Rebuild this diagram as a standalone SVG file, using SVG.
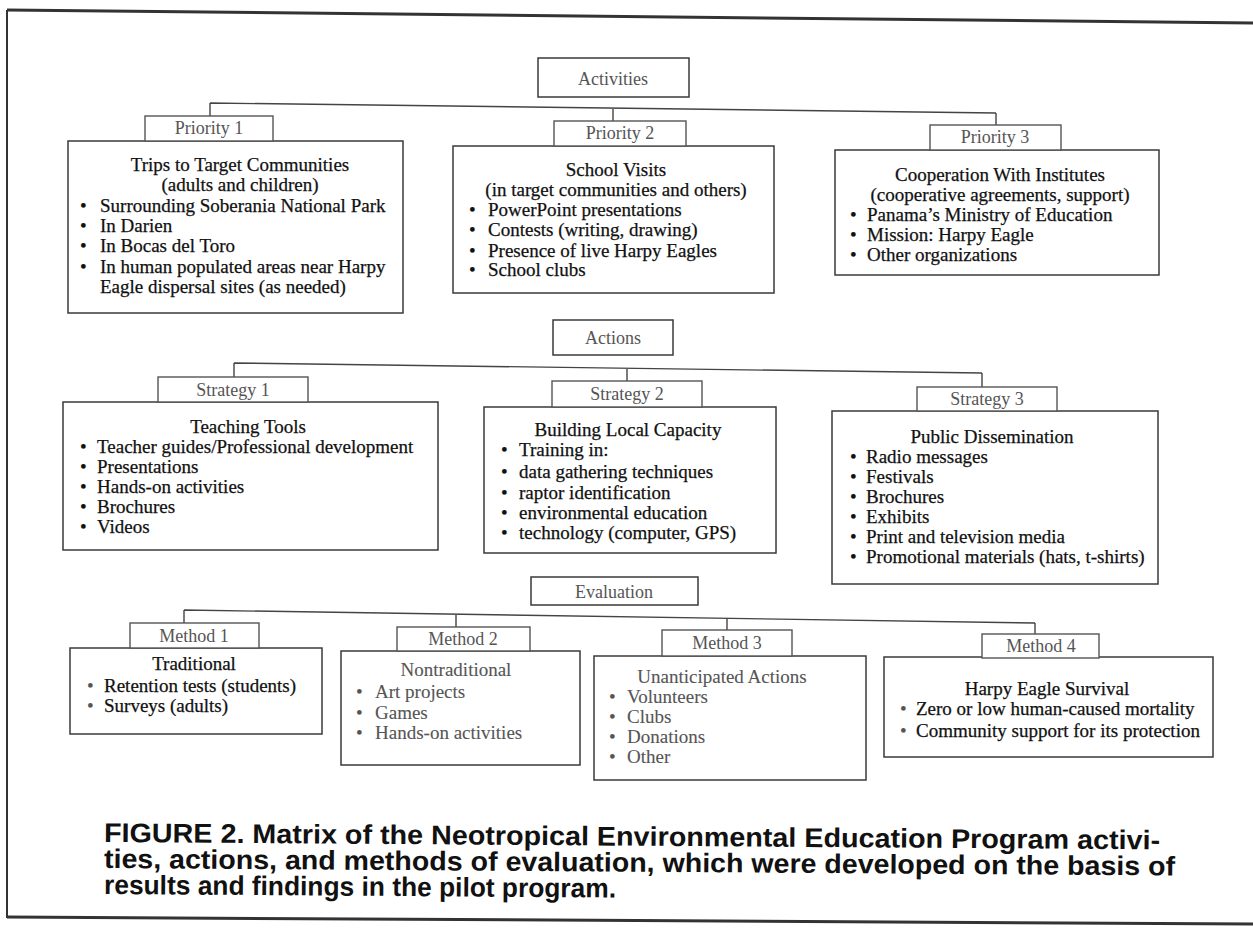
<svg xmlns="http://www.w3.org/2000/svg" width="1253" height="931" viewBox="0 0 1253 931">
<style>
.box{fill:#fff;stroke:#3a3a3a;stroke-width:1.5}
.lab{fill:#fff;stroke:#555;stroke-width:1.4}
.conn{fill:none;stroke:#444;stroke-width:1.4}
.t{font-family:"Liberation Serif","Times New Roman",serif;font-size:19px;fill:#111;stroke:#111;stroke-width:0.25}
.c{text-anchor:middle}
.g{fill:#555;stroke:#555;stroke-width:0.1}
.lt{font-family:"Liberation Serif","Times New Roman",serif;font-size:18px;fill:#555;text-anchor:middle}
.cap{font-family:"Liberation Sans",Arial,sans-serif;font-size:27px;font-weight:bold;fill:#111}
.frame{fill:none;stroke:#333}
</style>
<rect width="1253" height="931" fill="#fff"/>
<g id="frame">
<path class="frame" stroke-width="3" d="M7,10 L1253,23"/>
<path class="frame" stroke-width="2" d="M7,10 L7,918"/>
<path class="frame" stroke-width="3" d="M7,917 L1253,924"/>
</g>
<g id="connectors">
<path class="conn" d="M210,103 L996,113 M210,103 V116 M613,108 V121 M996,113 V125"/>
<path class="conn" d="M234,363 L982,373 M234,363 V377 M627,369 V381 M982,373 V387"/>
<path class="conn" d="M184,610 L1035,623 M184,610 V623 M456,614.2 V627 M727,618.4 V630 M1035,623 V634"/>
</g>
<g id="activities">
<rect class="box" x="538" y="58" width="151" height="39"/>
<text class="lt" x="613" y="85">Activities</text>
</g>
<g id="priority1">
<rect class="box" x="68" y="141" width="335" height="172"/>
<rect class="lab" x="145" y="116" width="128" height="25"/>
<text class="lt" x="209" y="134">Priority 1</text>
<text class="t c" x="240" y="171">Trips to Target Communities</text>
<text class="t c" x="240" y="191">(adults and children)</text>
<text class="t" x="80" y="212">•</text><text class="t" x="100" y="212">Surrounding Soberania National Park</text>
<text class="t" x="80" y="232">•</text><text class="t" x="100" y="232">In Darien</text>
<text class="t" x="80" y="252">•</text><text class="t" x="100" y="252">In Bocas del Toro</text>
<text class="t" x="80" y="273">•</text><text class="t" x="100" y="273">In human populated areas near Harpy</text>
<text class="t" x="100" y="293">Eagle dispersal sites (as needed)</text>
</g>
<g id="priority2">
<rect class="box" x="453" y="146" width="321" height="147"/>
<rect class="lab" x="554" y="121" width="132" height="25"/>
<text class="lt" x="620" y="139">Priority 2</text>
<text class="t c" x="616" y="176">School Visits</text>
<text class="t c" x="616" y="196">(in target communities and others)</text>
<text class="t" x="469" y="216">•</text><text class="t" x="488" y="216">PowerPoint presentations</text>
<text class="t" x="469" y="236">•</text><text class="t" x="488" y="236">Contests (writing, drawing)</text>
<text class="t" x="469" y="257">•</text><text class="t" x="488" y="257">Presence of live Harpy Eagles</text>
<text class="t" x="469" y="276">•</text><text class="t" x="488" y="276">School clubs</text>
</g>
<g id="priority3">
<rect class="box" x="835" y="150" width="324" height="125"/>
<rect class="lab" x="930" y="125" width="131" height="25"/>
<text class="lt" x="995" y="143">Priority 3</text>
<text class="t c" x="1000" y="181">Cooperation With Institutes</text>
<text class="t c" x="1000" y="201">(cooperative agreements, support)</text>
<text class="t" x="850" y="221">•</text><text class="t" x="867" y="221">Panama’s Ministry of Education</text>
<text class="t" x="850" y="241">•</text><text class="t" x="867" y="241">Mission: Harpy Eagle</text>
<text class="t" x="850" y="261">•</text><text class="t" x="867" y="261">Other organizations</text>
</g>
<g id="actions">
<rect class="box" x="553" y="320" width="120" height="35"/>
<text class="lt" x="613" y="344">Actions</text>
</g>
<g id="strategy1">
<rect class="box" x="63" y="402" width="375" height="148"/>
<rect class="lab" x="158" y="377" width="150" height="25"/>
<text class="lt" x="233" y="396">Strategy 1</text>
<text class="t c" x="248" y="433">Teaching Tools</text>
<text class="t" x="80" y="453">•</text><text class="t" x="97" y="453">Teacher guides/Professional development</text>
<text class="t" x="80" y="473">•</text><text class="t" x="97" y="473">Presentations</text>
<text class="t" x="80" y="493">•</text><text class="t" x="97" y="493">Hands-on activities</text>
<text class="t" x="80" y="513">•</text><text class="t" x="97" y="513">Brochures</text>
<text class="t" x="80" y="533">•</text><text class="t" x="97" y="533">Videos</text>
</g>
<g id="strategy2">
<rect class="box" x="484" y="407" width="292" height="146"/>
<rect class="lab" x="552" y="381" width="150" height="26"/>
<text class="lt" x="627" y="400">Strategy 2</text>
<text class="t c" x="628" y="436">Building Local Capacity</text>
<text class="t" x="501" y="456">•</text><text class="t" x="519" y="456">Training in:</text>
<text class="t" x="501" y="478">•</text><text class="t" x="519" y="478">data gathering techniques</text>
<text class="t" x="501" y="499">•</text><text class="t" x="519" y="499">raptor identification</text>
<text class="t" x="501" y="519">•</text><text class="t" x="519" y="519">environmental education</text>
<text class="t" x="501" y="539">•</text><text class="t" x="519" y="539">technology (computer, GPS)</text>
</g>
<g id="strategy3">
<rect class="box" x="832" y="411" width="326" height="173"/>
<rect class="lab" x="917" y="387" width="140" height="24"/>
<text class="lt" x="987" y="405">Strategy 3</text>
<text class="t c" x="992" y="443">Public Dissemination</text>
<text class="t" x="850" y="463">•</text><text class="t" x="866" y="463">Radio messages</text>
<text class="t" x="850" y="483">•</text><text class="t" x="866" y="483">Festivals</text>
<text class="t" x="850" y="503">•</text><text class="t" x="866" y="503">Brochures</text>
<text class="t" x="850" y="523">•</text><text class="t" x="866" y="523">Exhibits</text>
<text class="t" x="850" y="543">•</text><text class="t" x="866" y="543">Print and television media</text>
<text class="t" x="850" y="563">•</text><text class="t" x="866" y="563">Promotional materials (hats, t-shirts)</text>
</g>
<g id="evaluation">
<rect class="box" x="531" y="577" width="167" height="28"/>
<text class="lt" x="614" y="598">Evaluation</text>
</g>
<g id="method1">
<rect class="box" x="70" y="648" width="252" height="86"/>
<rect class="lab" x="130" y="623" width="129" height="25"/>
<text class="lt" x="194" y="642">Method 1</text>
<text class="t c" x="194" y="670">Traditional</text>
<text class="t g" x="87" y="692">•</text><text class="t" x="104" y="692">Retention tests (students)</text>
<text class="t g" x="87" y="712">•</text><text class="t" x="104" y="712">Surveys (adults)</text>
</g>
<g id="method2">
<rect class="box" x="341" y="651" width="239" height="114"/>
<rect class="lab" x="397" y="627" width="133" height="24"/>
<text class="lt" x="463" y="645">Method 2</text>
<text class="t c g" x="456" y="676">Nontraditional</text>
<text class="t g" x="356" y="698">•</text><text class="t g" x="375" y="698">Art projects</text>
<text class="t g" x="356" y="719">•</text><text class="t g" x="375" y="719">Games</text>
<text class="t g" x="356" y="739">•</text><text class="t g" x="375" y="739">Hands-on activities</text>
</g>
<g id="method3">
<rect class="box" x="594" y="656" width="272" height="124"/>
<rect class="lab" x="662" y="630" width="130" height="26"/>
<text class="lt" x="727" y="649">Method 3</text>
<text class="t c g" x="722" y="683">Unanticipated Actions</text>
<text class="t g" x="609" y="703">•</text><text class="t g" x="627" y="703">Volunteers</text>
<text class="t g" x="609" y="723">•</text><text class="t g" x="627" y="723">Clubs</text>
<text class="t g" x="609" y="743">•</text><text class="t g" x="627" y="743">Donations</text>
<text class="t g" x="609" y="763">•</text><text class="t g" x="627" y="763">Other</text>
</g>
<g id="method4">
<rect class="box" x="884" y="657" width="329" height="100"/>
<rect class="lab" x="982" y="634" width="117" height="24"/>
<text class="lt" x="1041" y="652">Method 4</text>
<text class="t c" x="1047" y="695">Harpy Eagle Survival</text>
<text class="t g" x="900" y="715">•</text><text class="t" x="916" y="715">Zero or low human-caused mortality</text>
<text class="t g" x="900" y="737">•</text><text class="t" x="916" y="737">Community support for its protection</text>
</g>
<g id="caption">
<text class="cap" x="104" y="842" textLength="1056" lengthAdjust="spacingAndGlyphs" transform="rotate(0.4 104 842)">FIGURE 2. Matrix of the Neotropical Environmental Education Program activi-</text>
<text class="cap" x="104" y="868" textLength="1071" lengthAdjust="spacingAndGlyphs" transform="rotate(0.4 104 868)">ties, actions, and methods of evaluation, which were developed on the basis of</text>
<text class="cap" x="104" y="894" textLength="512" lengthAdjust="spacingAndGlyphs" transform="rotate(0.4 104 894)">results and findings in the pilot program.</text>
</g>
</svg>
